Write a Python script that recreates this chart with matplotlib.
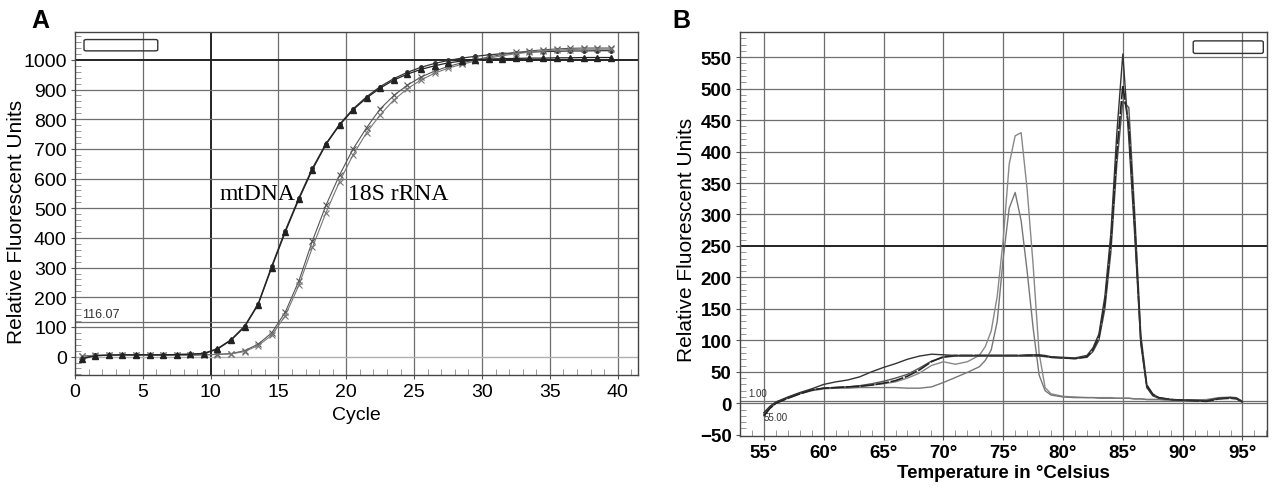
import matplotlib
matplotlib.use("Agg")
import matplotlib.pyplot as plt
from matplotlib.patches import FancyBboxPatch
from matplotlib.ticker import MultipleLocator

plt.rcParams['font.family'] = ['Liberation Sans', 'DejaVu Sans']

# ---------------- Panel A data: amplification curves ----------------
cycles = [c + 0.5 for c in range(40)]
mt_rep1 = [-8, 3, 5, 6, 6, 6, 6, 7, 8, 10, 25, 55, 100, 175, 300, 420, 530, 630, 715, 780,
           832, 872, 905, 932, 952, 968, 980, 990, 996, 1000, 1003, 1004, 1005, 1006, 1006,
           1007, 1007, 1008, 1008, 1008]
mt_rep2 = [-5, 4, 5, 6, 6, 6, 6, 7, 8, 11, 27, 57, 103, 178, 305, 425, 535, 635, 718, 783,
           835, 876, 910, 937, 958, 975, 988, 998, 1006, 1012, 1017, 1021, 1024, 1026, 1028,
           1029, 1030, 1030, 1031, 1031]
rrna_rep1 = [2, 3, 4, 4, 4, 4, 4, 5, 5, 6, 8, 10, 20, 42, 80, 150, 255, 390, 510, 612,
             700, 772, 835, 880, 915, 942, 962, 978, 990, 1000, 1010, 1018, 1025, 1030, 1034,
             1037, 1039, 1040, 1040, 1040]
rrna_rep2 = [3, 4, 4, 4, 4, 4, 5, 5, 5, 6, 7, 9, 17, 37, 72, 138, 240, 368, 485, 590,
             680, 755, 815, 865, 903, 932, 955, 972, 985, 996, 1006, 1014, 1021, 1026, 1030,
             1033, 1035, 1036, 1036, 1036]
threshold = 116.07
x_ticks_a = [0, 5, 10, 15, 20, 25, 30, 35, 40]
y_ticks_a = [0, 100, 200, 300, 400, 500, 600, 700, 800, 900, 1000]

# ---------------- Panel B data: melt curves (-dF/dT) ----------------
temps = [55, 55.5, 56, 57, 58, 59, 60, 61, 62, 63, 64, 65, 66, 67, 68, 69, 70, 71, 72, 73,
         73.5, 74, 74.5, 75, 75.5, 76, 76.5, 77, 77.5, 78, 78.5, 79, 80, 81, 82, 82.5, 83,
         83.5, 84, 84.5, 85, 85.5, 86, 86.5, 87, 87.5, 88, 89, 90, 91, 92, 93, 94, 94.5, 95]
melt_18s_a = [-15, -5, 2, 10, 17, 23, 30, 34, 37, 42, 50, 57, 63, 70, 75, 78, 77, 76, 76, 76,
              76, 76, 76, 76, 76, 76, 76, 77, 77, 77, 76, 74, 73, 72, 76, 88, 110,
              170, 270, 430, 555, 420, 265, 95, 25, 12, 8, 6, 5, 5, 4, 8, 9, 8, 2]
melt_18s_b = [-20, -8, 0, 8, 15, 21, 24, 25, 26, 27, 29, 32, 36, 43, 53, 66, 74, 76, 76, 76,
              76, 76, 76, 76, 76, 76, 76, 76, 76, 76, 75, 73, 72, 71, 74, 85, 105,
              160, 255, 400, 505, 440, 280, 100, 28, 14, 9, 6, 5, 4, 3, 7, 8, 7, 2]
melt_18s_c = [-18, -6, 1, 9, 16, 21, 24, 25, 26, 28, 31, 35, 40, 46, 56, 67, 73, 75, 75, 75,
              75, 75, 75, 75, 75, 75, 75, 75, 75, 75, 74, 73, 72, 71, 73, 82, 100,
              150, 240, 380, 480, 470, 300, 110, 30, 15, 9, 6, 5, 4, 4, 7, 9, 8, 3]
melt_mt_a = [-15, -5, 2, 9, 16, 21, 24, 25, 26, 27, 29, 31, 34, 40, 48, 60, 66, 62, 66, 76,
             90, 115, 170, 260, 380, 425, 430, 340, 220, 80, 25, 15, 11, 10, 9, 9, 9,
             9, 9, 8, 8, 8, 7, 7, 6, 6, 6, 5, 5, 5, 6, 9, 10, 9, 3]
melt_mt_b = [-20, -8, 0, 8, 15, 20, 23, 24, 24, 25, 25, 25, 25, 24, 24, 26, 33, 41, 49, 58,
             68, 85, 130, 230, 310, 335, 290, 210, 120, 45, 20, 13, 10, 9, 9, 9, 8,
             8, 8, 8, 8, 8, 7, 7, 6, 6, 6, 5, 5, 5, 5, 8, 9, 8, 2]
x_ticks_b = [55, 60, 65, 70, 75, 80, 85, 90, 95]
y_ticks_b = [-50, 0, 50, 100, 150, 200, 250, 300, 350, 400, 450, 500, 550]

W, H = 1280, 489
fig = plt.figure(figsize=(W / 100, H / 100), dpi=100)

def px_axes(l, t, r, b):
    return fig.add_axes([l / W, 1 - b / H, (r - l) / W, (b - t) / H])

grid_c = '#6e6e6e'

# ================= Panel A =================
axA = px_axes(75, 33, 638, 376)
axA.set_xlim(0, 41.5)
axA.set_ylim(-62, 1094)
for x in x_ticks_a[1:]:
    if x == 10:
        axA.axvline(x, color='#222222', lw=1.4, zorder=1)
    else:
        axA.axvline(x, color=grid_c, lw=0.9, zorder=1)
for y in y_ticks_a:
    if y == 1000:
        axA.axhline(y, color='#222222', lw=1.4, zorder=1)
    elif y == 0:
        axA.axhline(y, color='#b0b0b0', lw=1.0, zorder=1)
    else:
        axA.axhline(y, color=grid_c, lw=0.9, zorder=1)
axA.axhline(threshold, color=grid_c, lw=0.9, zorder=1)
axA.text(0.5, threshold + 8, '116.07', fontsize=9, color='#333333', va='bottom', ha='left')

axA.plot(cycles, mt_rep2, color='#333333', lw=0.9, marker='o', ms=2.5, zorder=3)
axA.plot(cycles, mt_rep1, color='#222222', lw=0.9, marker='^', ms=4, zorder=4)
axA.plot(cycles, rrna_rep1, color='#555555', lw=0.8, marker='x', ms=4, mew=0.8, zorder=3)
axA.plot(cycles, rrna_rep2, color='#777777', lw=0.8, marker='x', ms=4, mew=0.8, zorder=3)

axA.text(10.65, 532, 'mtDNA', family='Liberation Serif', fontsize=17, ha='left', va='baseline')
axA.text(20.1, 532, '18S rRNA', family='Liberation Serif', fontsize=17, ha='left', va='baseline')

axA.add_patch(FancyBboxPatch((0.016, 0.945), 0.131, 0.033, boxstyle='round,pad=0,rounding_size=0.004',
                             transform=axA.transAxes, fc='none', ec='#333333', lw=1.0, zorder=4))

axA.set_xticks(x_ticks_a)
axA.set_yticks(y_ticks_a)
axA.xaxis.set_minor_locator(MultipleLocator(1))
axA.yaxis.set_minor_locator(MultipleLocator(20))
axA.tick_params(axis='both', which='major', direction='out', length=3, width=0.8,
                labelsize=14, pad=3, color='#555555')
axA.tick_params(axis='both', which='minor', direction='in', length=4, width=0.6, color='#888888')
for s in axA.spines.values():
    s.set_color('#444444')
    s.set_linewidth(1.0)
axA.set_xlabel('Cycle', fontsize=14, labelpad=4)
axA.set_ylabel('Relative Fluorescent Units', fontsize=15)
axA.yaxis.set_label_coords(-0.087, 0.45)

# ================= Panel B =================
axB = px_axes(740, 33, 1267, 437)
axB.set_xlim(53.0, 97.05)
axB.set_ylim(-52, 590)
for x in x_ticks_b:
    axB.axvline(x, color=grid_c, lw=0.9, zorder=1)
for y in y_ticks_b[1:]:
    if y == 250:
        axB.axhline(y, color='#222222', lw=1.4, zorder=1)
    else:
        axB.axhline(y, color=grid_c, lw=0.9, zorder=1)
axB.axhline(4, color=grid_c, lw=0.9, zorder=1)
axB.text(53.7, 9, '1.00', fontsize=7, color='#333333', va='bottom', ha='left')
axB.text(55.0, -14, '55.00', fontsize=7, color='#333333', va='top', ha='left')

axB.plot(temps, melt_mt_a, color='#888888', lw=1.0, zorder=3)
axB.plot(temps, melt_mt_b, color='#777777', lw=1.0, zorder=3)
axB.plot(temps, melt_18s_c, color='#555555', lw=1.0, zorder=3)
axB.plot(temps, melt_18s_b, color='#222222', lw=1.2, dashes=(8, 1), zorder=3)
axB.plot(temps, melt_18s_a, color='#333333', lw=1.0, zorder=3)

axB.add_patch(FancyBboxPatch((0.86, 0.947), 0.133, 0.031, boxstyle='round,pad=0,rounding_size=0.004',
                             transform=axB.transAxes, fc='none', ec='#333333', lw=1.0, zorder=4))

axB.set_xticks(x_ticks_b)
axB.set_xticklabels([f'{t}\u00b0' for t in x_ticks_b])
axB.set_yticks(y_ticks_b)
axB.xaxis.set_minor_locator(MultipleLocator(1))
axB.yaxis.set_minor_locator(MultipleLocator(10))
axB.tick_params(axis='both', which='major', direction='out', length=3, width=0.8,
                labelsize=13.5, pad=3, color='#555555')
axB.tick_params(axis='both', which='minor', direction='in', length=4, width=0.6, color='#888888')
for lab in axB.get_xticklabels() + axB.get_yticklabels():
    lab.set_fontweight('bold')
for s in axB.spines.values():
    s.set_color('#444444')
    s.set_linewidth(1.0)
axB.set_xlabel('Temperature in \u00b0Celsius', fontsize=13.5, fontweight='bold', labelpad=2)
axB.set_ylabel('Relative Fluorescent Units', fontsize=15)
axB.yaxis.set_label_coords(-0.0835, 0.488)

fig.text(31 / W, 1 - 28 / H, 'A', fontsize=18, fontweight='bold', ha='left', va='baseline')
fig.text(672 / W, 1 - 28 / H, 'B', fontsize=18, fontweight='bold', ha='left', va='baseline')

fig.savefig('out.png', dpi=100)
